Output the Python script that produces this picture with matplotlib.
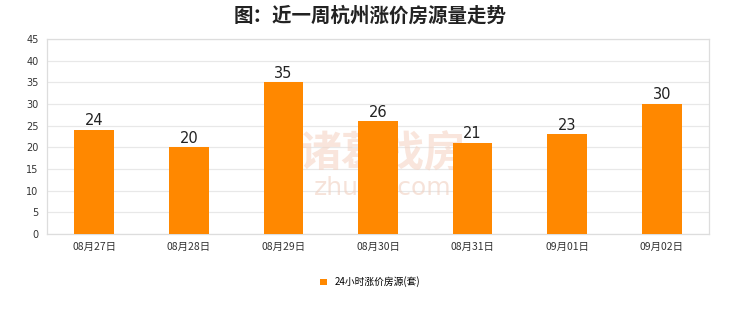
import matplotlib
matplotlib.use("Agg")
import matplotlib.pyplot as plt

plt.rcParams['font.family'] = ['Noto Sans CJK SC', 'DejaVu Sans']

categories = ["08月27日", "08月28日", "08月29日", "08月30日", "08月31日", "09月01日", "09月02日"]
values = [24, 20, 35, 26, 21, 23, 30]
series_name = "24小时涨价房源(套)"
title = "图：近一周杭州涨价房源量走势"
yticks = [0, 5, 10, 15, 20, 25, 30, 35, 40, 45]

fig = plt.figure(figsize=(7.4, 3.12), dpi=100)
ax = fig.add_axes([47/740, 1-234/312, 662/740, 195/312])

x = list(range(len(categories)))
bars = ax.bar(x, values, width=0.42, color="#FF8800", zorder=3, label=series_name)
for xi, v in zip(x, values):
    ax.text(xi, v + 0.4, str(v), ha="center", va="bottom", fontsize=10.5, color="#222222", family=['DejaVu Sans'])

ax.set_xlim(-0.5, len(categories) - 0.5)
ax.set_ylim(0, 45)
ax.set_yticks(yticks)
ax.set_yticklabels([str(t) for t in yticks], fontsize=7, color="#333333", family=['DejaVu Sans'])
ax.set_xticks(x)
ax.set_xticklabels(categories, fontsize=7.5, color="#333333")
ax.tick_params(axis="both", length=0, pad=6)
ax.grid(axis="y", color="#E8E8E8", linewidth=0.9, zorder=0)
for s in ax.spines.values():
    s.set_color("#DDDDDD")
    s.set_linewidth(0.9)

# watermark
ax.text(3.05, 18.5, "诸葛找房", ha="center", va="center", fontsize=30, color="#F5D5C5", alpha=0.6, zorder=2, fontweight="bold")
ax.text(3.05, 10.5, "zhuge.com", ha="center", va="center", fontsize=18, color="#F0D0C0", alpha=0.6, zorder=2, family=['DejaVu Sans'])

fig.text(0.5, 1-16/312, title, ha="center", va="center", fontsize=14, fontweight="bold", color="#222222")

leg = fig.legend(handles=[bars], labels=[series_name], loc="center", bbox_to_anchor=(0.5, 1-282/312),
                 frameon=False, fontsize=7, handlelength=0.7, handleheight=0.7, handletextpad=0.8)

fig.savefig("out.png", dpi=100, facecolor="white")
